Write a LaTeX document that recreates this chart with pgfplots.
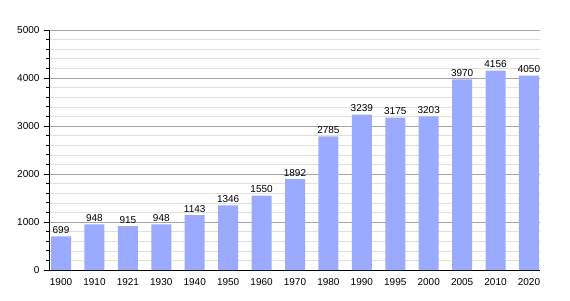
\documentclass[border=0pt]{standalone}
\usepackage{pgfplots}
\pgfplotsset{compat=1.18}
\usepackage{fontspec}
\setmainfont{Liberation Sans}
\definecolor{barblue}{HTML}{99AAFF}
\begin{document}
\begin{tikzpicture}
\begin{axis}[
  width=490pt, height=240pt, scale only axis,
  xmin=-0.33, xmax=14.33, ymin=0, ymax=5000,
  axis x line*=bottom, axis y line*=left,
  xtick=data,
  xticklabels={1900,1910,1921,1930,1940,1950,1960,1970,1980,1990,1995,2000,2005,2010,2020},
  x tick style={draw=none},
  ytick={0,1000,2000,3000,4000,5000},
  minor y tick num=4,
  y tick style={black, line width=0.8pt},
  tick align=outside,
  major tick length=6pt, minor tick length=4pt,
  ymajorgrids, yminorgrids,
  major grid style={draw=black!35, line width=0.6pt},
  minor grid style={draw=black!12, line width=0.6pt},
  axis line style={black, line width=1pt},
  tick label style={font=\fontsize{10}{12}\selectfont},
  /pgf/number format/assume math mode=true,
  /pgf/number format/set thousands separator={},
  yticklabel style={xshift=-1pt},
  xticklabel style={yshift=1pt},
  nodes near coords,
  nodes near coords style={font=\fontsize{10}{12}\selectfont, /pgf/number format/set thousands separator={}, yshift=-1pt},
  clip=false,
]
\addplot[ybar, bar width=20pt, fill=barblue, draw=none] coordinates {
(0,699) (1,948) (2,915) (3,948) (4,1143) (5,1346) (6,1550) (7,1892)
(8,2785) (9,3239) (10,3175) (11,3203) (12,3970) (13,4156) (14,4050)};
\coordinate (BL) at (rel axis cs:0,0);
\coordinate (TR) at (rel axis cs:1,1);
\end{axis}
\pgfresetboundingbox
\useasboundingbox ([xshift=-50pt,yshift=-30pt]BL) rectangle ([xshift=30pt,yshift=30pt]TR);
\end{tikzpicture}
\end{document}
